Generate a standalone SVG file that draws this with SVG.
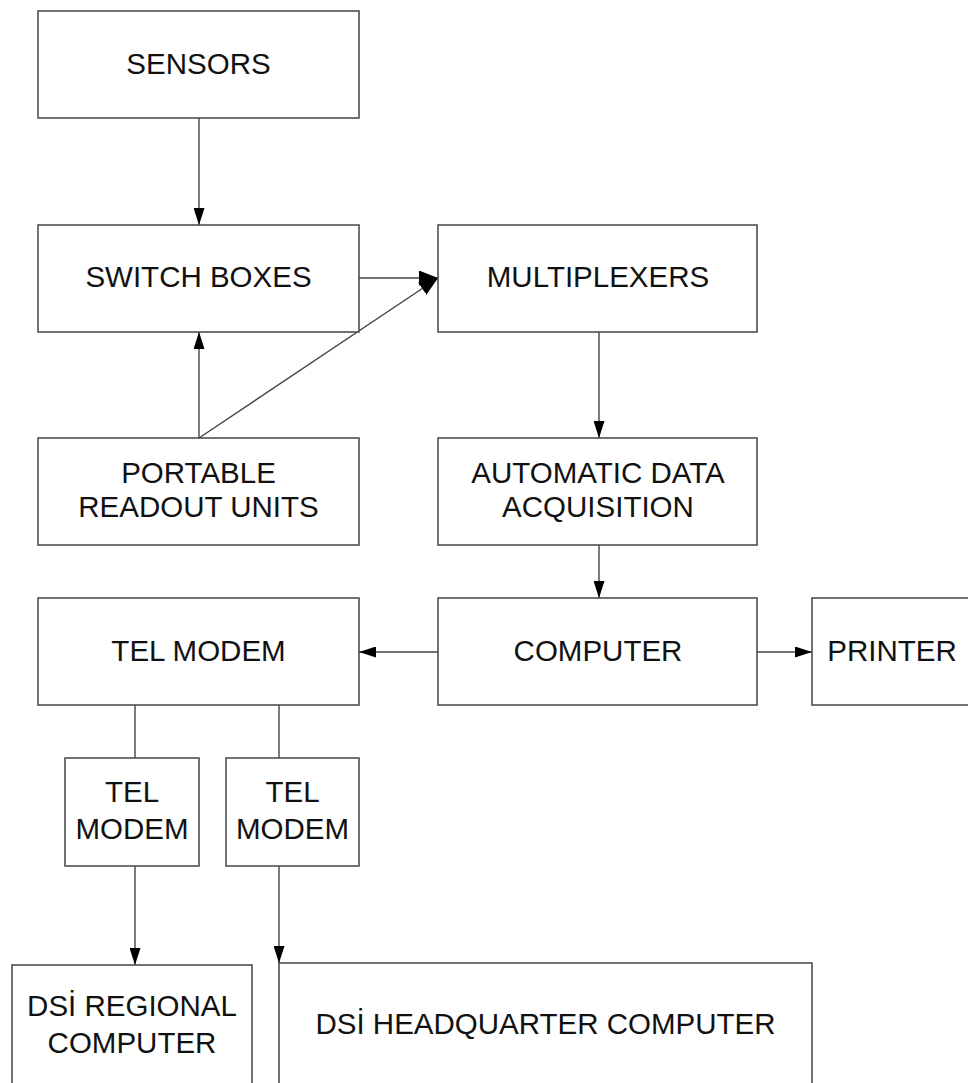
<svg xmlns="http://www.w3.org/2000/svg" width="968" height="1083" viewBox="0 0 968 1083">
<style>
.box{fill:#fff;stroke:#444;stroke-width:1.5}
.t{font-family:"Liberation Sans",Arial,sans-serif;font-size:29.5px;fill:#111;text-anchor:middle}
.c{fill:none;stroke:#444;stroke-width:1.4}
</style>
<defs>
<marker id="a" markerUnits="userSpaceOnUse" markerWidth="17" markerHeight="11" refX="17" refY="5.5" orient="auto"><path d="M0,0 L17,5.5 L0,11 z" fill="#000"/></marker>
<marker id="b" markerUnits="userSpaceOnUse" markerWidth="19" markerHeight="15" refX="19" refY="7.5" orient="auto"><path d="M0,0 L19,7.5 L0,15 z" fill="#000"/></marker>
</defs>
<rect width="968" height="1083" fill="#fff"/>
<g id="connectors">
<path class="c" d="M199,118 V225" marker-end="url(#a)"/>
<path class="c" d="M199,438 V332" marker-end="url(#a)"/>
<path class="c" d="M359,278 H438" marker-end="url(#b)"/>
<path class="c" d="M199,438 L438,278" marker-end="url(#b)"/>
<path class="c" d="M599,332 V438" marker-end="url(#a)"/>
<path class="c" d="M599,545 V598" marker-end="url(#a)"/>
<path class="c" d="M438,652 H359" marker-end="url(#a)"/>
<path class="c" d="M757,652 H812" marker-end="url(#a)"/>
<path class="c" d="M135,705 V758"/>
<path class="c" d="M279,705 V758"/>
<path class="c" d="M135,866 V965" marker-end="url(#a)"/>
<path class="c" d="M279,866 V963" marker-end="url(#a)"/>
</g>
<g id="sensors"><rect class="box" x="38" y="11" width="321" height="107"/><text class="t" x="198.5" y="74">SENSORS</text></g>
<g id="switch-boxes"><rect class="box" x="38" y="225" width="321" height="107"/><text class="t" x="198.5" y="287">SWITCH BOXES</text></g>
<g id="multiplexers"><rect class="box" x="438" y="225" width="319" height="107"/><text class="t" x="598" y="287">MULTIPLEXERS</text></g>
<g id="portable"><rect class="box" x="38" y="438" width="321" height="107"/><text class="t" x="198.5" y="483">PORTABLE</text><text class="t" x="198.5" y="517">READOUT UNITS</text></g>
<g id="ada"><rect class="box" x="438" y="438" width="319" height="107"/><text class="t" x="598" y="483">AUTOMATIC DATA</text><text class="t" x="598" y="517">ACQUISITION</text></g>
<g id="tel-modem"><rect class="box" x="38" y="598" width="321" height="107"/><text class="t" x="198.5" y="661">TEL MODEM</text></g>
<g id="computer"><rect class="box" x="438" y="598" width="319" height="107"/><text class="t" x="598" y="661">COMPUTER</text></g>
<g id="printer"><rect class="box" x="812" y="598" width="170" height="107"/><text class="t" x="892" y="661">PRINTER</text></g>
<g id="tel-modem-1"><rect class="box" x="65" y="758" width="134" height="108"/><text class="t" x="132" y="802">TEL</text><text class="t" x="132" y="839">MODEM</text></g>
<g id="tel-modem-2"><rect class="box" x="226" y="758" width="133" height="108"/><text class="t" x="292.5" y="802">TEL</text><text class="t" x="292.5" y="839">MODEM</text></g>
<g id="regional"><rect class="box" x="12" y="965" width="240" height="140"/><text class="t" x="132" y="1016">DSİ REGIONAL</text><text class="t" x="132" y="1053">COMPUTER</text></g>
<g id="headquarter"><rect class="box" x="279" y="963" width="533" height="140"/><text class="t" x="545.5" y="1034">DSİ HEADQUARTER COMPUTER</text></g>
</svg>
